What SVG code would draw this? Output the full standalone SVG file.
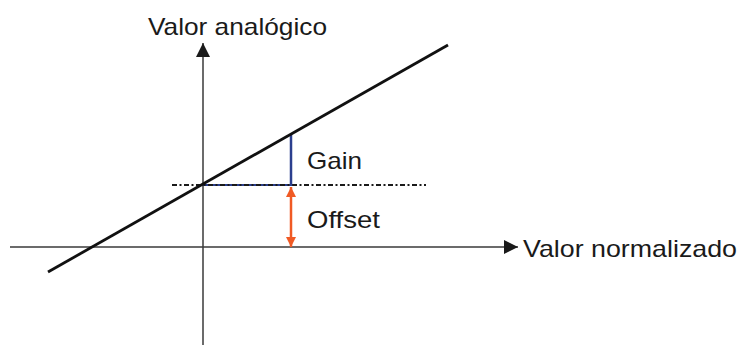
<svg xmlns="http://www.w3.org/2000/svg" width="739" height="347" viewBox="0 0 739 347">
<style>
.axis{stroke:#3a3a3a;stroke-width:1.5;fill:none}
.lbl{font-family:"Liberation Sans",Arial,sans-serif;font-size:24px;fill:#1a1a1a}
</style>
<defs>
<marker id="ah" viewBox="0 0 10 10" refX="10" refY="5" markerWidth="14" markerHeight="14" markerUnits="userSpaceOnUse" orient="auto"><path d="M0,0 L10,5 L0,10 Z" fill="#1a1a1a"/></marker>
<marker id="oh" viewBox="0 0 10 10" refX="10" refY="5" markerWidth="10" markerHeight="10" markerUnits="userSpaceOnUse" orient="auto-start-reverse"><path d="M0,0 L10,5 L0,10 Z" fill="#f05a24"/></marker>
</defs>
<rect width="739" height="347" fill="#ffffff"/>
<g id="connectors">
<line id="y-axis" class="axis" x1="203" y1="345" x2="203" y2="43" marker-end="url(#ah)"/>
<line id="x-axis" class="axis" x1="10" y1="247" x2="518" y2="247" marker-end="url(#ah)"/>
<line id="gain-h" x1="203" y1="185" x2="291" y2="185" stroke="#2b3f8e" stroke-width="2"/>
<line id="ref-line" x1="172" y1="185" x2="426" y2="185" stroke="#1a1a1a" stroke-width="2" stroke-dasharray="5 2.5 2 2.5"/>
<line id="gain-v" x1="291" y1="186" x2="291" y2="134" stroke="#2b3f8e" stroke-width="2.5"/>
<line id="offset" x1="291" y1="187" x2="291" y2="247" stroke="#f05a24" stroke-width="2.5" marker-start="url(#oh)" marker-end="url(#oh)"/>
<line id="transfer" x1="48" y1="272" x2="448" y2="45" stroke="#111" stroke-width="2.8"/>
</g>
<g id="label-y"><text class="lbl" x="148" y="35" textLength="179" lengthAdjust="spacingAndGlyphs">Valor analógico</text></g>
<g id="label-x"><text class="lbl" x="523" y="257" textLength="214" lengthAdjust="spacingAndGlyphs">Valor normalizado</text></g>
<g id="label-gain"><text class="lbl" x="307" y="169" textLength="55" lengthAdjust="spacingAndGlyphs">Gain</text></g>
<g id="label-offset"><text class="lbl" x="307" y="228" textLength="73" lengthAdjust="spacingAndGlyphs">Offset</text></g>
</svg>
